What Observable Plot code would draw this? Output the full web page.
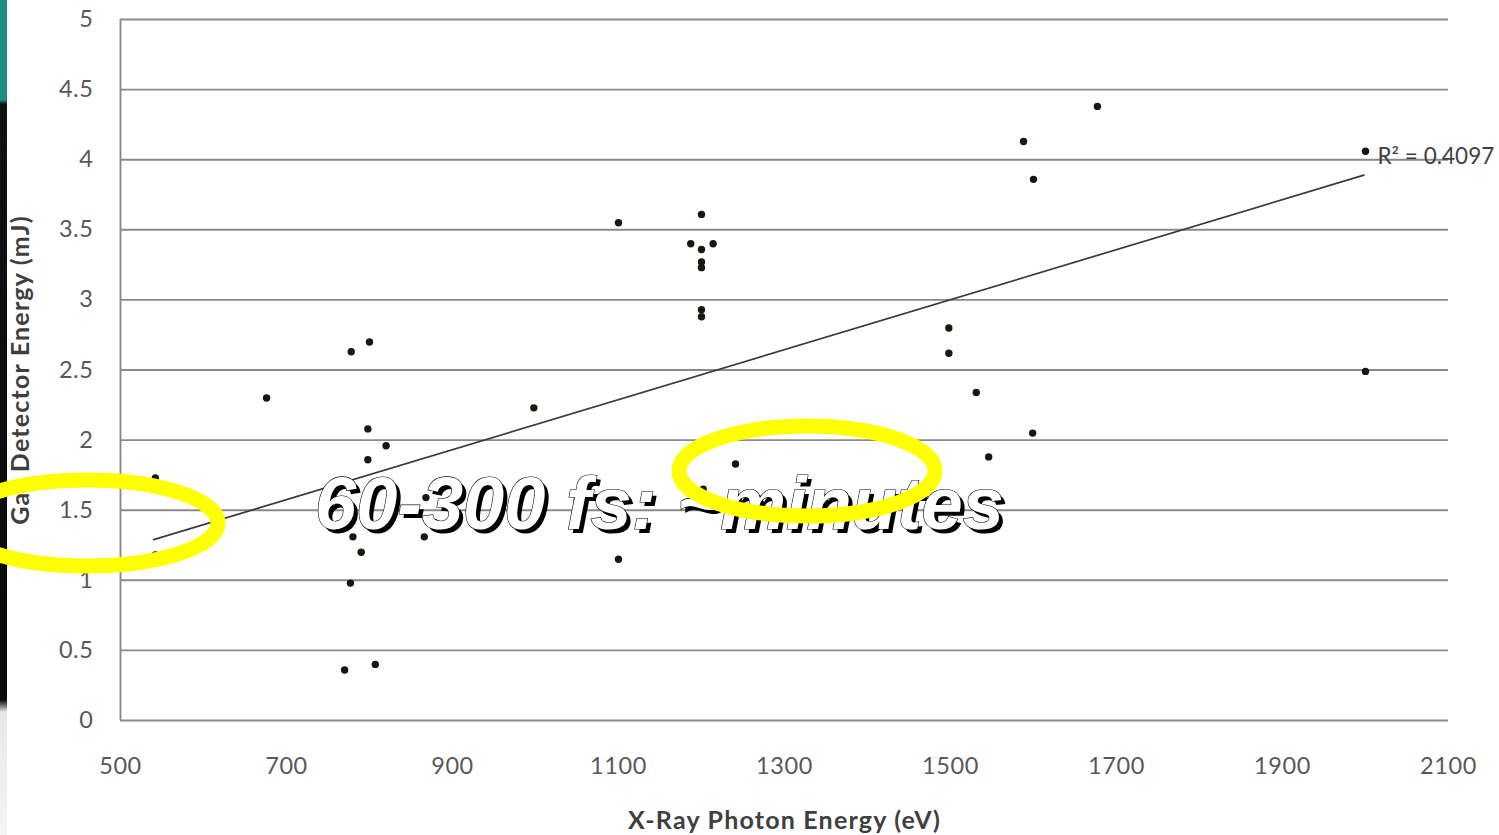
<!DOCTYPE html>
<html>
<head>
<meta charset="utf-8">
<script src="https://cdn.jsdelivr.net/npm/d3@7"></script>
<script src="https://cdn.jsdelivr.net/npm/@observablehq/plot@0.6"></script>
<style>
  html, body { margin: 0; padding: 0; background: #fff; }
  #wrap { position: relative; width: 1499px; height: 835px; overflow: hidden; background: #fff; }
  #strip { position: absolute; left: 0; top: 0; width: 7px; height: 835px;
    background: linear-gradient(to bottom, #1e8c7e 0px, #1e8c7e 100px, #111 104px, #0a0a0a 700px, #e8e8e8 712px, #f4f4f4 835px); }
  #chart { position: absolute; left: 0; top: 0; }
  #chart svg g[aria-label="x-axis tick label"] text,
  #chart svg g[aria-label="y-axis tick label"] text { letter-spacing: 0.6px; }
  #chart svg g[aria-label="x-axis label"] text,
  #chart svg g[aria-label="y-axis label"] text { font-weight: 700; fill: #3f3f3f; font-size: 25px; letter-spacing: 1.2px; }
  #overlay { position: absolute; left: 0; top: 0; pointer-events: none; }
</style>
</head>
<body>
<div id="wrap">
  <div id="chart"></div>
  <div id="strip"></div>
  <svg id="overlay" width="1499" height="835"></svg>
</div>
<script>
// ---- data ----
const photonEnergy = [542, 542, 676, 778, 800, 798, 820, 798, 868, 780, 866, 790, 777, 770, 807,
  998, 1100, 1100, 1200, 1187, 1200, 1214, 1200, 1200, 1200, 1200, 1202, 1241,
  1498, 1498, 1531, 1546, 1599, 1588, 1600, 1677, 2000, 2000];
const gasEnergy = [1.73, 1.18, 2.30, 2.63, 2.70, 2.08, 1.96, 1.86, 1.59, 1.31, 1.31, 1.20, 0.98, 0.36, 0.40,
  2.23, 3.55, 1.15, 3.61, 3.40, 3.36, 3.40, 3.27, 3.23, 2.93, 2.88, 1.65, 1.83,
  2.80, 2.62, 2.34, 1.88, 2.05, 4.13, 3.86, 4.38, 4.06, 2.49];
const trendX = [540, 1998];
const trendY = [1.29, 3.89];
const r2Text = ["R² = 0.4097"];
const r2At = {x: 2000, y: 4.06};
const xTicks = [500, 700, 900, 1100, 1300, 1500, 1700, 1900, 2100];
const yTicks = [0, 0.5, 1, 1.5, 2, 2.5, 3, 3.5, 4, 4.5, 5];
const xTitle = "X-Ray Photon Energy (eV)";
const yTitle = "Gas Detector Energy (mJ)";
const annotation = "60-300 fs: ~minutes";

const points = photonEnergy.map((x, i) => ({x, y: gasEnergy[i]}));
const trend = trendX.map((x, i) => ({x, y: trendY[i]}));

const chart = Plot.plot({
  width: 1499,
  height: 835,
  marginLeft: 120,
  marginRight: 51,
  marginTop: 19,
  marginBottom: 115,
  style: {fontFamily: "Lato, 'Open Sans', sans-serif", fontSize: "23.5px", color: "#585858", background: "transparent"},
  x: {domain: [500, 2100]},
  y: {domain: [0, 5]},
  marks: [
    Plot.ruleY(yTicks, {stroke: "#8a8a8a", strokeWidth: 1.9}),
    Plot.ruleX([500], {stroke: "#8a8a8a", strokeWidth: 1.9}),
    Plot.line(trend, {x: "x", y: "y", stroke: "#3a3a3a", strokeWidth: 1.7}),
    Plot.dot(points, {x: "x", y: "y", r: 3.7, fill: "#141a0e", stroke: "none"}),
    Plot.text(r2Text, {x: () => r2At.x, y: () => r2At.y, text: d => d, textAnchor: "start", dx: 12, dy: 6,
      fill: "#404040", fontSize: 22.5, letterSpacing: 0.6}),
    Plot.axisX({ticks: xTicks, tickSize: 0, tickPadding: 37, tickFormat: d => String(d),
      label: xTitle, labelAnchor: "center", labelOffset: 108, labelArrow: "none"}),
    Plot.axisY({ticks: yTicks, tickSize: 0, tickPadding: 27, tickFormat: d => String(d),
      label: yTitle, labelAnchor: "center", labelOffset: 109, labelArrow: "none"})
  ]
});
document.getElementById("chart").appendChild(chart);

// ---- slide overlay: annotation text and yellow highlight ellipses ----
const ov = d3.select("#overlay");
const fontA = "'Liberation Sans', Arial, sans-serif";
ov.append("text").attr("x", 319).attr("y", 533).text(annotation)
  .attr("font-family", fontA).attr("font-weight", 700).attr("font-style", "italic")
  .attr("font-size", 74).attr("fill", "#000");
ov.append("text").attr("x", 315).attr("y", 529).text(annotation)
  .attr("font-family", fontA).attr("font-weight", 700).attr("font-style", "italic")
  .attr("font-size", 74).attr("fill", "#fff").attr("stroke", "#000").attr("stroke-width", 1.2)
  .attr("paint-order", "stroke");
ov.append("ellipse").attr("cx", 87).attr("cy", 523).attr("rx", 131).attr("ry", 43)
  .attr("fill", "none").attr("stroke", "#ffff00").attr("stroke-width", 15);
ov.append("ellipse").attr("cx", 807).attr("cy", 471).attr("rx", 128).attr("ry", 45)
  .attr("fill", "none").attr("stroke", "#ffff00").attr("stroke-width", 15);
</script>
</body>
</html>
